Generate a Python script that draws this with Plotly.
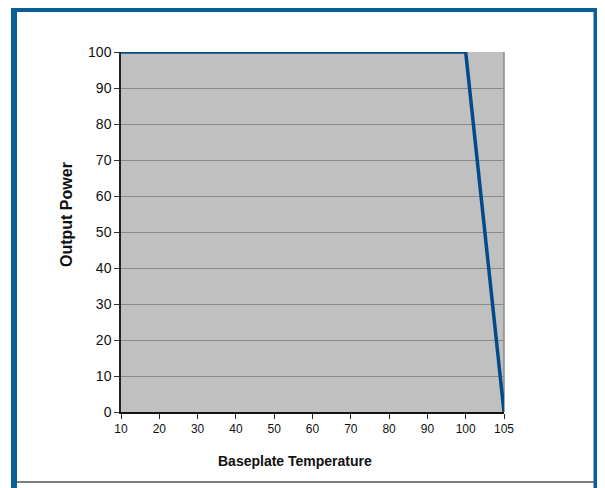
import plotly.graph_objects as go

# Data
temperatures = ["10", "20", "30", "40", "50", "60", "70", "80", "90", "100", "105"]
output_power = [100, 100, 100, 100, 100, 100, 100, 100, 100, 100, 0]
y_ticks = [0, 10, 20, 30, 40, 50, 60, 70, 80, 90, 100]

OFF = 8  # default page body margin
W, H = 605 - OFF, 488 - OFF
# plot area in page pixels
L, R, T, B = 121, 504, 52, 412


def px(x):
    return (x - L) / (R - L)


def py(y):
    return (B - y) / (B - T)


FONT = "Liberation Sans, Arial, sans-serif"
FRAME = "#0a5f9b"

fig = go.Figure()
fig.add_trace(go.Scatter(
    x=temperatures, y=output_power, mode="lines",
    line=dict(color="#024a8c", width=3.5),
    hoverinfo="x+y", showlegend=False,
))

fig.update_layout(
    width=W, height=H,
    margin=dict(l=L - OFF, r=605 - R, t=T - OFF, b=488 - B, pad=0),
    paper_bgcolor="white",
    plot_bgcolor="#c0c0c0",
    font=dict(family=FONT, color="#111111"),
    xaxis=dict(
        type="category", range=[0, 10], showgrid=False,
        ticks="outside", ticklen=5, tickcolor="#222222", tickwidth=1,
        showline=True, linecolor="#111111", linewidth=1.5,
        tickfont=dict(size=12, family=FONT), zeroline=False, fixedrange=True,
    ),
    yaxis=dict(
        range=[0, 100], tickvals=y_ticks, showgrid=True,
        gridcolor="#8a8a8a", gridwidth=1.3,
        ticks="outside", ticklen=5, tickcolor="#333333", tickwidth=1,
        showline=True, linecolor="#222222", linewidth=1.5,
        tickfont=dict(size=14, family=FONT), zeroline=False, fixedrange=True,
    ),
    annotations=[
        dict(text="<b>Output Power</b>", x=px(67), y=py(214), xref="paper", yref="paper",
             textangle=-90, showarrow=False, xanchor="center", yanchor="middle",
             font=dict(size=16, family=FONT, color="#111111")),
        dict(text="<b>Baseplate Temperature</b>", x=px(295), y=py(461), xref="paper", yref="paper",
             showarrow=False, xanchor="center", yanchor="middle",
             font=dict(size=14, family=FONT, color="#111111")),
    ],
    shapes=[
        # right border of plot area
        dict(type="line", xref="paper", yref="paper", x0=1, x1=1, y0=0, y1=1,
             line=dict(color="#8a8a8a", width=1.5), layer="below"),
        # outer frame
        dict(type="line", xref="paper", yref="paper", x0=px(14), x1=px(14), y0=py(6), y1=py(520),
             line=dict(color=FRAME, width=6)),
        dict(type="line", xref="paper", yref="paper", x0=px(597), x1=px(597), y0=py(6), y1=py(520),
             line=dict(color=FRAME, width=7)),
        dict(type="line", xref="paper", yref="paper", x0=px(11), x1=px(600.5), y0=py(9), y1=py(9),
             line=dict(color=FRAME, width=6)),
        # bottom separator
        dict(type="line", xref="paper", yref="paper", x0=px(17), x1=px(594), y0=py(482), y1=py(482),
             line=dict(color="#555555", width=1.5)),
    ],
)

fig.write_html("out.html")
